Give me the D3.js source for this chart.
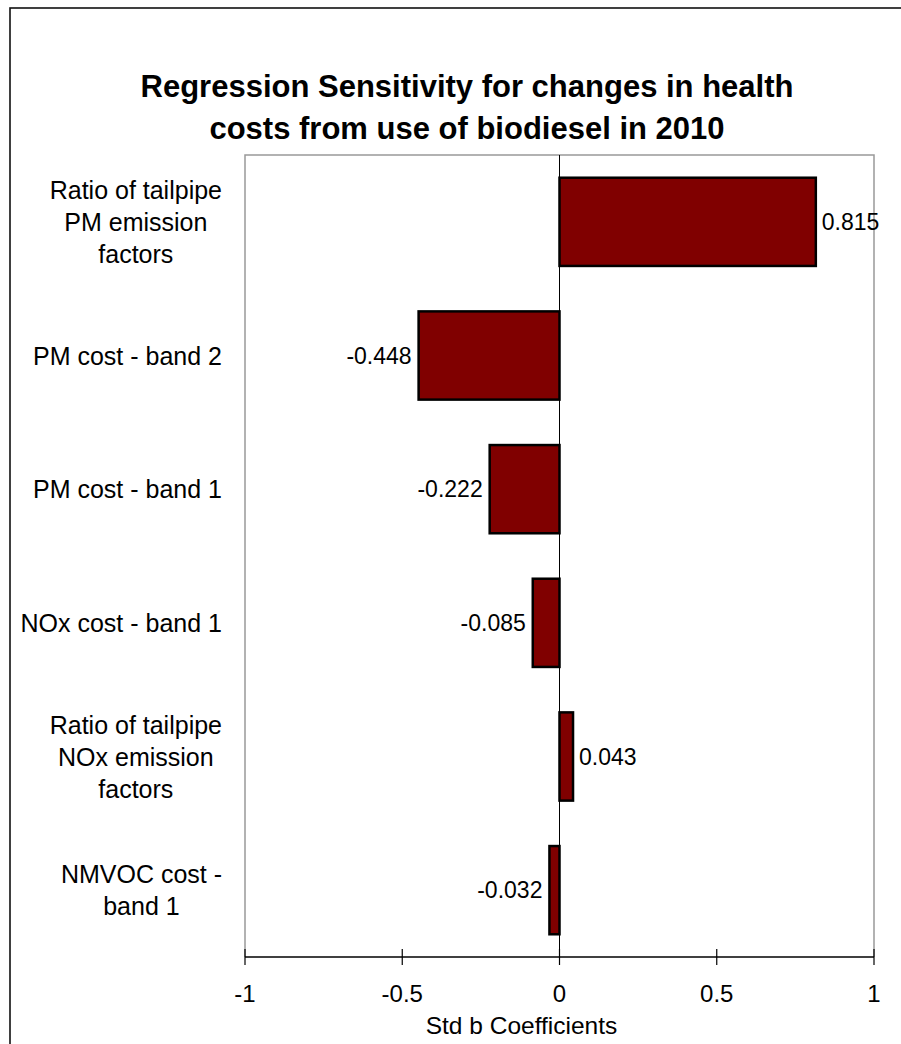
<!DOCTYPE html>
<html>
<head>
<meta charset="utf-8">
<script src="https://cdn.jsdelivr.net/npm/d3@7"></script>
<style>
  html, body { margin: 0; padding: 0; background: #fff; }
  svg { display: block; font-family: "Liberation Sans", Arial, sans-serif; }
</style>
</head>
<body>
<svg id="chart" width="901" height="1044"></svg>
<script>
// Standardised regression coefficients for each input parameter
const categories = [
  "Ratio of tailpipe PM emission factors",
  "PM cost - band 2",
  "PM cost - band 1",
  "NOx cost - band 1",
  "Ratio of tailpipe NOx emission factors",
  "NMVOC cost - band 1"
];
const categoryLines = [
  ["Ratio of tailpipe", "PM emission", "factors"],
  ["PM cost - band 2"],
  ["PM cost - band 1"],
  ["NOx cost - band 1"],
  ["Ratio of tailpipe", "NOx emission", "factors"],
  ["NMVOC cost -", "band 1"]
];
const values = [0.815, -0.448, -0.222, -0.085, 0.043, -0.032];
const tickValues = [-1, -0.5, 0, 0.5, 1];
const tickLabels = ["-1", "-0.5", "0", "0.5", "1"];
const titleLines = [
  "Regression Sensitivity for changes in health",
  "costs from use of biodiesel in 2010"
];
const xTitle = "Std b Coefficients";

const svg = d3.select("#chart");
const plot = { left: 245, right: 874, top: 155, bottom: 957 };

// Number format with a plain hyphen for negatives
const fmt = d => (d < 0 ? "-" : "") + Math.abs(d).toFixed(3);

// Outer chart frame (extends past the right and bottom edges)
svg.append("rect")
  .attr("x", 10).attr("y", 8)
  .attr("width", 1000).attr("height", 1100)
  .attr("fill", "none").attr("stroke", "#111").attr("stroke-width", 1.6);

// Title
svg.append("g").selectAll("text").data(titleLines).join("text")
  .attr("x", 467).attr("y", (d, i) => 97 + i * 42)
  .attr("text-anchor", "middle")
  .attr("font-size", 31).attr("font-weight", "bold").attr("fill", "#000")
  .text(d => d);

const x = d3.scaleLinear().domain([-1, 1]).range([plot.left, plot.right]);
const y = d3.scaleBand().domain(categories)
  .range([plot.top, plot.bottom]).paddingInner(0.34).paddingOuter(0.17);

// Plot area border (grey), bottom edge is the axis
svg.append("path")
  .attr("d", `M${plot.left},${plot.bottom}V${plot.top}H${plot.right}V${plot.bottom}`)
  .attr("fill", "none").attr("stroke", "#999").attr("stroke-width", 1.5);

// Zero reference line
svg.append("line")
  .attr("x1", x(0)).attr("x2", x(0))
  .attr("y1", plot.top).attr("y2", plot.bottom)
  .attr("stroke", "#000").attr("stroke-width", 1);

// Bars
svg.append("g").selectAll("rect").data(values).join("rect")
  .attr("x", d => Math.min(x(0), x(d)))
  .attr("y", (d, i) => y(categories[i]))
  .attr("width", d => Math.abs(x(d) - x(0)))
  .attr("height", y.bandwidth())
  .attr("fill", "#800000")
  .attr("stroke", "#000").attr("stroke-width", 2.5);

// Value labels
svg.append("g").selectAll("text").data(values).join("text")
  .attr("x", d => d >= 0 ? x(d) + 6 : x(d) - 7)
  .attr("y", (d, i) => y(categories[i]) + y.bandwidth() / 2)
  .attr("dy", "0.36em")
  .attr("text-anchor", d => d >= 0 ? "start" : "end")
  .attr("font-size", 23).attr("fill", "#000")
  .text(fmt);

// X axis with crossing ticks
const xAxis = svg.append("g").attr("transform", `translate(0,${plot.bottom})`);
xAxis.append("line")
  .attr("x1", plot.left).attr("x2", plot.right)
  .attr("stroke", "#000").attr("stroke-width", 1.5);
xAxis.selectAll("line.tick").data(tickValues).join("line")
  .attr("class", "tick")
  .attr("x1", d => x(d)).attr("x2", d => x(d))
  .attr("y1", -8).attr("y2", 8)
  .attr("stroke", "#000").attr("stroke-width", 1.2);
xAxis.selectAll("text").data(tickValues).join("text")
  .attr("x", d => x(d)).attr("y", 45)
  .attr("text-anchor", "middle")
  .attr("font-size", 24).attr("fill", "#000")
  .text((d, i) => tickLabels[i]);

svg.append("text")
  .attr("x", x(0) - 38).attr("y", 1034)
  .attr("text-anchor", "middle")
  .attr("font-size", 24.5).attr("fill", "#000")
  .text(xTitle);

// Category labels: each block is right-aligned to the plot, lines centred within it
const labelRight = 222;
const lineH = 32;
const catG = svg.append("g").attr("font-size", 25).attr("fill", "#000");
categories.forEach((c, i) => {
  const lines = categoryLines[i];
  const g = catG.append("g");
  const texts = g.selectAll("text").data(lines).join("text")
    .attr("text-anchor", "middle")
    .text(d => d);
  let maxW = 0;
  texts.each(function () { maxW = Math.max(maxW, this.getComputedTextLength()); });
  const cx = labelRight - maxW / 2;
  const cy = y(c) + y.bandwidth() / 2;
  texts.attr("x", cx)
    .attr("y", (d, j) => cy + (j - (lines.length - 1) / 2) * lineH)
    .attr("dy", "0.36em");
});
</script>
</body>
</html>
